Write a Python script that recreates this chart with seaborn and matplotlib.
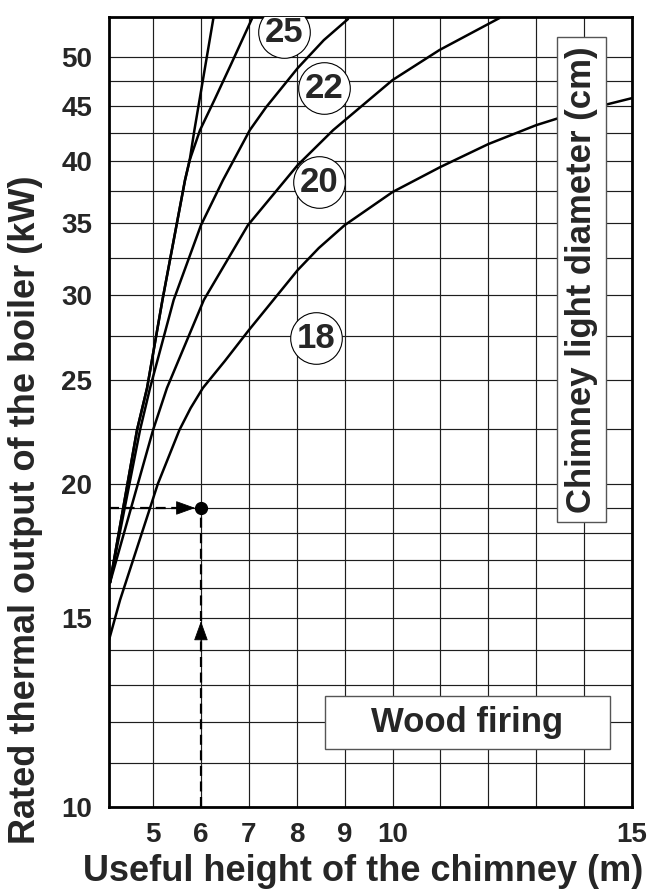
import numpy as np
import pandas as pd
import matplotlib
matplotlib.use("Agg")
import matplotlib.pyplot as plt
import seaborn as sns
from matplotlib.ticker import FixedLocator, FixedFormatter, NullFormatter
from matplotlib.patches import Rectangle

# ---------------- data ----------------
# steep limit line (shares its lower part with the 25 cm curve)
limit_h = [4.10, 4.665, 4.875, 5.196, 5.667, 5.765, 5.863, 6.26]
limit_p = [16.18, 22.46, 24.58, 29.69, 38.40, 40.09, 42.75, 54.37]

d25_h = [4.10, 4.665, 4.875, 5.196, 5.667, 5.765, 5.98, 6.28, 6.62, 7.07]
d25_p = [16.18, 22.46, 24.58, 29.69, 38.40, 40.09, 42.75, 45.6, 49.15, 54.37]

d22_h = [4.10, 4.728, 4.937, 5.43, 6.0, 6.46, 7.02, 7.36, 8.02, 8.565, 9.07]
d22_p = [16.18, 22.46, 24.58, 29.69, 34.86, 38.40, 42.75, 44.91, 48.84, 51.86, 54.26]

d20_h = [4.10, 5.0, 5.29, 6.06, 6.98, 8.02, 8.76, 10.0, 10.98, 12.23]
d20_p = [16.18, 22.46, 24.58, 29.69, 34.86, 39.66, 42.75, 47.60, 50.77, 54.37]

d18_h = [4.08, 4.31, 4.937, 5.098, 5.55, 5.784, 6.04, 6.5, 7.0, 8.02, 8.46, 9.0,
         10.0, 11.0, 12.0, 13.0, 14.0, 15.0]
d18_p = [14.31, 15.59, 19.0, 20.0, 22.46, 23.54, 24.58, 26.05, 27.83, 31.66, 33.19, 34.86,
         37.43, 39.5, 41.49, 43.21, 44.63, 45.79]

curve_names = ["limit", "25", "22", "20", "18"]

# circled diameter labels
label_text = ["25", "22", "20", "18"]
label_h = [7.73, 8.57, 8.46, 8.41]
label_p = [52.76, 46.78, 38.24, 27.36]

# worked example
example_h = 6.0
example_p = 19.0

# axis ticks / grid
x_ticks = [5, 6, 7, 8, 9, 10, 15]
x_grid = [11, 12, 13, 14]
y_ticks = [10, 15, 20, 25, 30, 35, 40, 45, 50]
y_grid = [11, 12, 13, 14, 16, 17, 18, 19, 22.5, 27.5, 32.5, 37.5, 42.5, 47.5]

# ---------------- figure ----------------
sns.set_theme(style="white")
plt.rcParams["font.family"] = ["Liberation Sans", "DejaVu Sans"]
plt.rcParams["font.weight"] = "bold"

fig = plt.figure(figsize=(6.47, 8.89), dpi=100)
ax = fig.add_axes([109 / 647, 1 - 807 / 889, 523 / 647, 790 / 889])

frames = []
for name, h, p in zip(curve_names,
                      [limit_h, d25_h, d22_h, d20_h, d18_h],
                      [limit_p, d25_p, d22_p, d20_p, d18_p]):
    frames.append(pd.DataFrame({"h": h, "p": p, "curve": name}))
df = pd.concat(frames, ignore_index=True)

ax.set_yscale("log")
ax.set_xlim(4.08, 15)
ax.set_ylim(10, 54.5)

sns.lineplot(data=df, x="h", y="p", hue="curve", units="curve", estimator=None,
             sort=False, palette=["black"] * 5, linewidth=1.8, legend=False, ax=ax,
             zorder=3)

# ticks & grid
ax.xaxis.set_major_locator(FixedLocator(x_ticks))
ax.xaxis.set_major_formatter(FixedFormatter([str(t) for t in x_ticks]))
ax.xaxis.set_minor_locator(FixedLocator(x_grid))
ax.xaxis.set_minor_formatter(NullFormatter())
ax.yaxis.set_major_locator(FixedLocator(y_ticks))
ax.yaxis.set_major_formatter(FixedFormatter([str(t) for t in y_ticks]))
ax.yaxis.set_minor_locator(FixedLocator(y_grid))
ax.yaxis.set_minor_formatter(NullFormatter())
ax.grid(True, which="both", color="#1e1e1e", linewidth=0.85, zorder=1)
ax.set_axisbelow(True)
ax.tick_params(which="both", length=0)
ax.tick_params(axis="y", labelsize=20, pad=12)
ax.tick_params(axis="x", labelsize=20, pad=11)
for lab in ax.get_xticklabels() + ax.get_yticklabels():
    lab.set_fontweight("bold")

for s in ax.spines.values():
    s.set_visible(True)
    s.set_color("black")
    s.set_linewidth(2.0)

ax.set_xlabel("Useful height of the chimney (m)", fontsize=26, fontweight="bold")
ax.set_ylabel("Rated thermal output of the boiler (kW)", fontsize=26, fontweight="bold")
ax.xaxis.label.set_va("baseline")
ax.yaxis.label.set_va("baseline")
ax.xaxis.set_label_coords(0.485, -(881 - 807) / 790)
ax.yaxis.set_label_coords((35 - 109) / 523, 0.376)

# worked example: dashed arrows and dot
ax.plot([4.08, 5.6], [example_p, example_p], color="black", lw=1.6,
        dashes=(4.5, 2.5), zorder=4)
ax.plot([example_h, example_h], [10, 14.5], color="black", lw=1.6,
        dashes=(4.5, 2.5), zorder=4)
ax.plot([example_h, example_h], [14.9, example_p], color="black", lw=1.6,
        dashes=(4.5, 2.5), zorder=4)
ax.annotate("", xy=(5.88, example_p), xytext=(5.45, example_p),
            arrowprops=dict(arrowstyle="-|>,head_length=1.25,head_width=0.45",
                            mutation_scale=10, color="black", lw=0.6,
                            shrinkA=0, shrinkB=0), zorder=5)
ax.annotate("", xy=(example_h, 14.9), xytext=(example_h, 14.2),
            arrowprops=dict(arrowstyle="-|>,head_length=1.25,head_width=0.45",
                            mutation_scale=10, color="black", lw=0.6,
                            shrinkA=0, shrinkB=0), zorder=5)
ax.plot([example_h], [example_p], marker="o", ms=8.5, color="black", zorder=6)

# circled diameter labels
ax.scatter(label_h, label_p, s=1380, facecolor="white", edgecolor="black",
           linewidth=0.8, zorder=7)
for t, h, p in zip(label_text, label_h, label_p):
    ax.text(h, p, t, ha="center", va="center", fontsize=25, fontweight="bold",
            zorder=8)

# boxed texts
ax.add_patch(Rectangle((0.8566, 0.3608), 0.0937, 0.614, transform=ax.transAxes,
                       facecolor="white", edgecolor="#555555", lw=1.0, zorder=7))
ax.text(0.9035, 0.667, "Chimney light diameter (cm)", transform=ax.transAxes,
        rotation=90, ha="center", va="center", fontsize=25, fontweight="bold",
        zorder=8)
ax.add_patch(Rectangle((0.413, 0.0734), 0.545, 0.0671, transform=ax.transAxes,
                       facecolor="white", edgecolor="#555555", lw=1.0, zorder=7))
ax.text(0.6855, 0.107, "Wood firing", transform=ax.transAxes,
        ha="center", va="center", fontsize=25, fontweight="bold", zorder=8)

fig.savefig("out.png", dpi=100)
